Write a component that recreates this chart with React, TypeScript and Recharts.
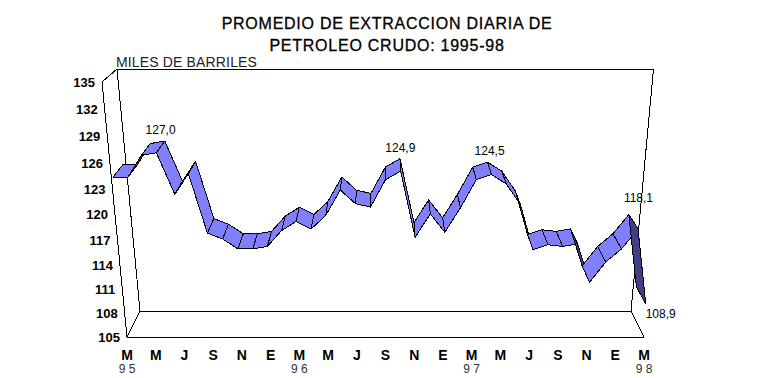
import React from "react";
import { ComposedChart, Line, XAxis, YAxis } from "recharts";

const monthIndex = Array.from({ length: 37 }, (_, i) => i);
const monthLetters = ["M","M","J","S","N","E","M","M","J","S","N","E","M","M","J","S","N","E","M"];
const yearLabels = ["9 5", "9 6", "9 7", "9 8"];
const extraction = [
  124.2,124.2,126.7,127.0,122.2,124.6,117.6,116.9,115.7,115.7,116.0,117.9,119.0,118.1,119.7,122.7,121.1,120.7,
  123.9,124.9,117.1,119.9,117.7,120.6,123.9,124.5,123.4,121.0,115.6,116.2,116.0,116.3,111.6,114.1,115.7,118.1,108.9,
];
const labelledMonths = [3, 19, 25, 35, 36];
const valueTicks = [105,108,111,114,117,120,123,126,129,132,135];
const monthTicks = monthLetters.map((_, k) => k * 2);
const frameEdges = [
  { i: 36, v: 105, d: 0 }, { i: 0, v: 105, d: 0 }, { i: 0, v: 135, d: 0 }, { i: 0, v: 135, d: 1 },
  { i: 0, v: 105, d: 1 }, { i: 0, v: 105, d: 0 }, { i: 0, v: 105, d: 1 }, { i: 36, v: 105, d: 1 },
  { i: 36, v: 105, d: 0 }, { i: 36, v: 105, d: 1 }, { i: 36, v: 135, d: 1 }, { i: 0, v: 135, d: 1 },
];
const rows = monthIndex.map((i) => ({ i, v: extraction[i] }));

const LEFT = 127, RIGHT = 644, TOP = 82, BOTTOM = 337;
const RIBBON_FRONT = 0.1, RIBBON_BACK = 0.8, STRETCH = 1.09;
const lerp = (a: number, b: number, t: number) => a + (b - a) * t;

// the box of the 3-D chart: the scales' output is warped on to it
function warp(cx: number, cy: number, d: number) {
  const u = (cx - LEFT) / (RIGHT - LEFT);
  const h = (BOTTOM - cy) / (BOTTOM - TOP);
  const t = h / (h + (1 - h) * STRETCH);
  const xLeft = lerp(lerp(127, 140, d), lerp(102, 117, d), t);
  const xRight = lerp(lerp(644, 631, d), lerp(669, 653.5, d), t);
  const y = lerp(lerp(337, 311, d), lerp(82, 69, d), t);
  return { x: lerp(xLeft, xRight, u), y };
}

const TXT = "'Liberation Sans', Arial, sans-serif";

function FrameDot(props: any) {
  const { index, cx, cy, points, payload } = props;
  const next = points && points[index + 1];
  if (!next) return <g key={index} />;
  const a = warp(cx, cy, payload.d);
  const b = warp(next.x, next.y, next.payload.d);
  return <line key={index} x1={a.x} y1={a.y} x2={b.x} y2={b.y} stroke="#000" strokeWidth={1} shapeRendering="crispEdges" />;
}

function RibbonDot(props: any) {
  const { index, cx, cy, points, value } = props;
  const next = points && points[index + 1];
  const f0 = warp(cx, cy, RIBBON_FRONT);
  const b0 = warp(cx, cy, RIBBON_BACK);
  let quad = null;
  if (next) {
    const f1 = warp(next.x, next.y, RIBBON_FRONT);
    const b1 = warp(next.x, next.y, RIBBON_BACK);
    const poly = [f0, b0, b1, f1];
    let area = 0;
    poly.forEach((p, k) => {
      const q = poly[(k + 1) % 4];
      area += p.x * q.y - q.x * p.y;
    });
    quad = (
      <polygon
        points={poly.map((p) => `${p.x},${p.y}`).join(" ")}
        fill={area > 0 ? "#8080ff" : "#404088"}
        stroke="#000"
        strokeWidth={1}
        strokeLinejoin="round"
        shapeRendering="crispEdges"
      />
    );
  }
  let label = null;
  if (labelledMonths.includes(index)) {
    const text = Number(value).toFixed(1).replace(".", ",");
    const last = index === extraction.length - 1;
    const high = index === 35;
    const lx = last ? f0.x : (f0.x + b0.x) / 2 + (high ? 5 : 0);
    const ly = last ? f0.y + 14 : b0.y - (high ? 13 : 7);
    label = (
      <text x={lx} y={ly} fontFamily={TXT} fontSize={12} fill="#000" textAnchor={last ? "start" : "middle"}>
        {text}
      </text>
    );
  }
  return <g key={index}>{quad}{label}</g>;
}

function ValueTick(props: any) {
  const { y, payload } = props;
  const p = warp(LEFT, y, 0);
  return (
    <text x={p.x - 7} y={p.y + 4.5} textAnchor="end" fontFamily={TXT} fontWeight="bold" fontSize={13} fill="#000">
      {payload.value}
    </text>
  );
}

function MonthTick(props: any) {
  const { x, payload } = props;
  const k = payload.value / 2;
  const year = k % 6 === 0 ? yearLabels[k / 6] : null;
  return (
    <g>
      <text x={x} y={BOTTOM + 23} textAnchor="middle" fontFamily={TXT} fontWeight="bold" fontSize={14} fill="#000">
        {monthLetters[k]}
      </text>
      {year && (
        <text x={x} y={BOTTOM + 36} textAnchor="middle" fontFamily={TXT} fontSize={12} fill="#333">
          {year}
        </text>
      )}
    </g>
  );
}

const titleStyle: React.CSSProperties = {
  position: "absolute", left: 0, width: 774, textAlign: "center", fontFamily: TXT, fontSize: 16,
  letterSpacing: 0.75, color: "#000", WebkitTextStroke: "0.3px #000", whiteSpace: "nowrap", lineHeight: "20px",
};

export default function App() {
  return (
    <div style={{ position: "absolute", left: 0, top: 0, width: 766, height: 378, overflow: "hidden", background: "#fff" }}>
      <div style={{ ...titleStyle, top: 14 }}>PROMEDIO DE EXTRACCION DIARIA DE</div>
      <div style={{ ...titleStyle, top: 36 }}>PETROLEO CRUDO: 1995-98</div>
      <div style={{ position: "absolute", left: 116, top: 54, fontFamily: TXT, fontSize: 14, letterSpacing: 0.15, lineHeight: "16px", whiteSpace: "nowrap", color: "#222" }}>
        MILES DE BARRILES
      </div>
      <ComposedChart
        width={766}
        height={378}
        data={rows}
        margin={{ top: TOP, right: 766 - RIGHT, bottom: 0, left: LEFT - 60 }}
        style={{ position: "absolute", left: 0, top: 0 }}
      >
        <XAxis dataKey="i" type="number" domain={[0, 36]} ticks={monthTicks} interval={0} height={378 - BOTTOM}
          axisLine={false} tickLine={false} tick={<MonthTick />} />
        <YAxis type="number" domain={[105, 135]} ticks={valueTicks} interval={0} width={60}
          axisLine={false} tickLine={false} tick={<ValueTick />} />
        <Line data={frameEdges} dataKey="v" stroke="none" dot={FrameDot} activeDot={false} isAnimationActive={false} />
        <Line dataKey="v" stroke="none" dot={RibbonDot} activeDot={false} isAnimationActive={false} />
      </ComposedChart>
    </div>
  );
}
